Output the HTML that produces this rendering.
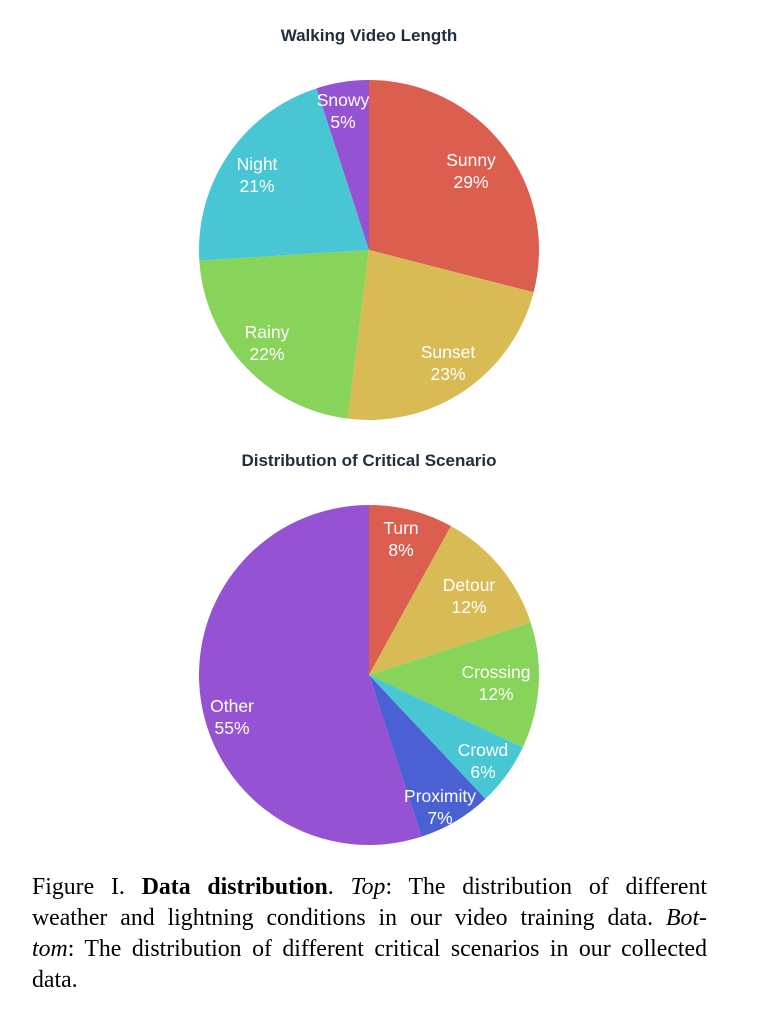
<!DOCTYPE html>
<html><head><meta charset="utf-8"><style>
body{margin:0;background:#fff;width:769px;height:1024px;overflow:hidden;position:relative}
.cap{position:absolute;left:32px;top:872px;width:675px;font-family:"Liberation Serif",serif;font-size:23.8px;line-height:31px;color:#000}
.cap div{text-align:justify;text-align-last:justify;white-space:nowrap}
.cap div.l{text-align-last:left}
</style></head><body>
<svg id="s" width="769" height="860" style="position:absolute;left:0;top:0" font-family="Liberation Sans, sans-serif">
<text x="369" y="41" text-anchor="middle" font-weight="bold" font-size="17" fill="#1f2d3d">Walking Video Length</text>
<text x="369" y="466" text-anchor="middle" font-weight="bold" font-size="17" fill="#1f2d3d">Distribution of Critical Scenario</text>
</svg>
<div class="cap">
<div>Figure I. <b>Data distribution</b>. <i>Top</i>: The distribution of different</div>
<div>weather and lightning conditions in our video training data. <i>Bot-</i></div>
<div><i>tom</i>: The distribution of different critical scenarios in our collected</div>
<div class="l">data.</div>
</div>
<script>
const s=document.getElementById('s');
function pie(cx,cy,r,data){
 let a=0;
 data.forEach(([n,v,c])=>{
  const a0=a,a1=a+v/100*2*Math.PI;a=a1;
  const p=t=>[cx+r*Math.sin(t),cy-r*Math.cos(t)];
  const [x0,y0]=p(a0),[x1,y1]=p(a1);
  const path=document.createElementNS('http://www.w3.org/2000/svg','path');
  path.setAttribute('d',`M${cx},${cy}L${x0},${y0}A${r},${r} 0 ${a1-a0>Math.PI?1:0} 1 ${x1},${y1}Z`);
  path.setAttribute('fill',c);s.appendChild(path);
 });
 data.forEach(([n,v,c,x,y])=>{
  [[n,y+6],[v+'%',y+28]].forEach(([t,yy])=>{
   const e=document.createElementNS('http://www.w3.org/2000/svg','text');
   e.setAttribute('x',x);e.setAttribute('y',yy);e.setAttribute('text-anchor','middle');
   e.setAttribute('font-size','17.5');e.setAttribute('fill','#fff');e.textContent=t;s.appendChild(e);
  });
 });
}
pie(369,250,170,[['Sunny',29,'#db5e4f',471,160],['Sunset',23,'#d8bb55',448,352],['Rainy',22,'#88d35a',267,332],['Night',21,'#49c6d4',257,164],['Snowy',5,'#9552d3',343,100]]);
pie(369,675,170,[['Turn',8,'#db5e4f',401,528],['Detour',12,'#d8bb55',469,585],['Crossing',12,'#88d35a',496,672],['Crowd',6,'#49c6d4',483,750],['Proximity',7,'#4b60d3',440,796],['Other',55,'#9552d3',232,706]]);
</script>
</body></html>
